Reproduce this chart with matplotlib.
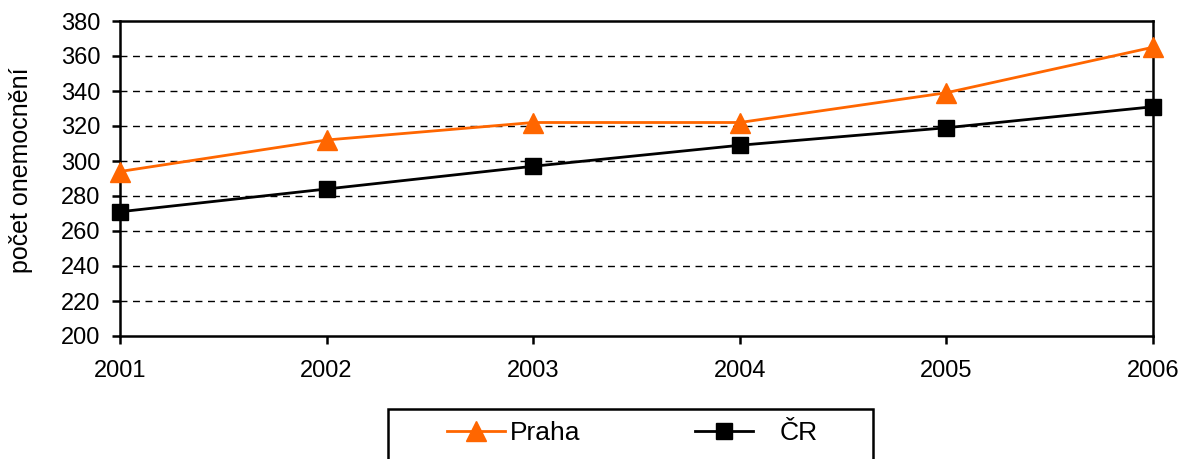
import matplotlib
matplotlib.use("Agg")
import matplotlib.pyplot as plt
from matplotlib.patches import Rectangle

years = [2001, 2002, 2003, 2004, 2005, 2006]
praha = [294, 312, 322, 322, 339, 365]
cr = [271, 284, 297, 309, 319, 331]
yticks = list(range(200, 381, 20))
series_labels = ['Praha', 'ČR']

plt.rcParams['font.family'] = ['Liberation Sans', 'DejaVu Sans']

W, H = 1181, 459
fig = plt.figure(figsize=(W/100, H/100), dpi=100)
ax = fig.add_axes([120/W, 1-336/H, (1153-120)/W, (336-21)/H])

l1, = ax.plot(years, praha, color='#FF6600', lw=2, marker='^', markersize=14,
              clip_on=False, zorder=3, label=series_labels[0])
l2, = ax.plot(years, cr, color='black', lw=2, marker='s', markersize=11,
              clip_on=False, zorder=3, label=series_labels[1])

ax.set_xlim(2001, 2006)
ax.set_ylim(200, 380)
ax.set_yticks(yticks)
ax.set_xticks(years)
for y in yticks[1:-1]:
    ax.axhline(y, color='black', lw=1, ls=(0, (5, 4)), zorder=1)

for s in ax.spines.values():
    s.set_linewidth(1.8)
    s.set_color('black')
ax.tick_params(axis='both', labelsize=17, length=6, width=1.8, direction='out')
ax.tick_params(axis='x', pad=11)
ax.tick_params(axis='y', pad=8)
ax.set_ylabel('počet onemocnění', fontsize=18)
ax.yaxis.set_label_coords(33/W, 1-170/H, transform=fig.transFigure)

# legend frame
fig.patches.append(Rectangle((388/W, -0.05), (873-388)/W, 1-409/H + 0.05,
                             transform=fig.transFigure, fill=True,
                             facecolor='white', edgecolor='black', lw=1.8,
                             zorder=0))

common = dict(frameon=False, fontsize=19, borderpad=0, borderaxespad=0,
              handlelength=2.2)
fig.legend([l1], [series_labels[0]], loc='center left',
           bbox_to_anchor=(447/W, 1-433/H), handletextpad=0.2, **common)
fig.legend([l2], [series_labels[1]], loc='center left',
           bbox_to_anchor=(695/W, 1-433/H), handletextpad=1.02, **common)

fig.savefig('out.png', dpi=100)
